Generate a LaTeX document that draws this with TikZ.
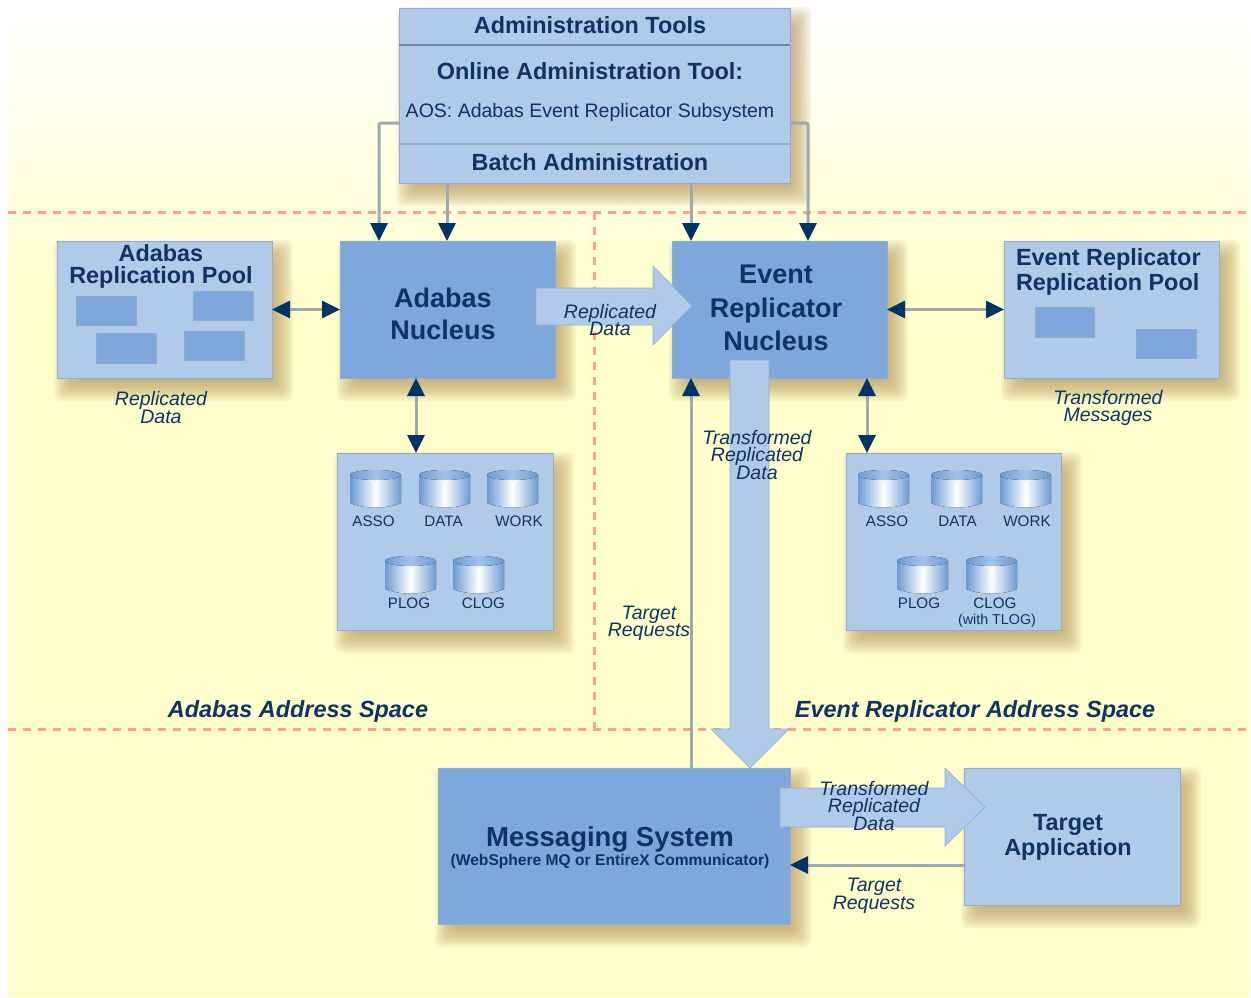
\documentclass[tikz,border=0pt]{standalone}
\usepackage{fontspec}
\setmainfont{Liberation Sans}
\usetikzlibrary{arrows.meta,calc}
\definecolor{lightb}{HTML}{B0CAE9}
\definecolor{midb}{HTML}{7EA8DC}
\definecolor{edgeb}{HTML}{96ABC6}
\definecolor{navy}{HTML}{0E3364}
\definecolor{tipnavy}{HTML}{003366}
\definecolor{conn}{HTML}{9CA9AE}
\definecolor{dashc}{HTML}{FFA090}
\definecolor{bgy}{HTML}{FFFFCC}
\definecolor{shad}{HTML}{B89A60}
\definecolor{cyledge}{HTML}{6A9BD3}
\tikzset{
  pane/.style={draw=edgeb,line width=.8pt,fill=lightb,inner sep=0pt,outer sep=0pt,text=navy,align=center},
  core/.style={draw=edgeb,line width=.8pt,fill=midb,inner sep=0pt,outer sep=0pt,text=navy,align=center},
  txt/.style={inner sep=0pt,outer sep=0pt,text=navy,align=center},
  head/.style={txt,font=\fontsize{23.4}{25}\selectfont\bfseries},
  big/.style={txt,font=\fontsize{27}{32}\selectfont\bfseries},
  lab/.style={txt,font=\fontsize{19.5}{17.5}\selectfont\itshape},
  dblab/.style={txt,font=\fontsize{15.2}{17}\selectfont},
  space/.style={txt,font=\fontsize{23.4}{25}\selectfont\bfseries\itshape},
  zone/.style={draw=dashc,line width=3pt,dash pattern=on 8pt off 7pt},
  wire/.style={draw=conn,line width=3pt,rounded corners=2pt},
  tip/.style={-{Triangle[length=18pt,width=17pt,color=tipnavy]}},
  tips/.style={{Triangle[length=18pt,width=17pt,color=tipnavy]}-{Triangle[length=18pt,width=17pt,color=tipnavy]}},
  fat/.style={draw=edgeb,line width=.6pt,fill=lightb},
  mini/.style={draw=edgeb!70!midb,line width=.6pt,fill=midb},
}
% soft shadow + box node
\newcommand{\softshadow}[4]{%
  \foreach \i in {0,...,11}{%
    \fill[shad,opacity=.10,rounded corners=7pt]
      ({#1+9-12+2*\i},{#2+11-12+2*\i}) rectangle ({#3+9+12-2*\i},{#4+11+12-2*\i});
  }}
\newcommand{\boxat}[7]{%
  \softshadow{#2}{#3}{#4}{#5}%
  \pgfmathsetlengthmacro{\bw}{(#4)-(#2)}%
  \pgfmathsetlengthmacro{\bh}{(#5)-(#3)}%
  \node[#6,minimum width=\bw,minimum height=\bh] (#1) at ({(#2+#4)/2},{(#3+#5)/2}) {#7};}
\newcommand{\cyl}[3]{%
  \fill[left color=cyledge,right color=cyledge,middle color=white,draw=none]
    (#2,#3+5) -- (#2,#3+33) .. controls (#2+14,#3+39) and (#2+37,#3+39) .. (#2+51,#3+33) -- (#2+51,#3+5) -- cycle;
  \fill[left color=cyledge,right color=cyledge,middle color=midb!70!white]
    (#2+25.5,#3+5) ellipse (25.5 and 5);
  \coordinate (#1) at (#2+25.5,#3+20);}
\begin{document}
\begin{tikzpicture}[x=1pt,y=-1pt]
\useasboundingbox (0,0) rectangle (1251,997);
\fill[white] (0,0) rectangle (1251,997);
\fill[top color=white,bottom color=bgy] (8,0) rectangle (1250,300);
\fill[bgy] (8,300) rectangle (1250,997);
% zones
\coordinate (zl1) at (8,212); \coordinate (zr1) at (1250,212);
\coordinate (zl2) at (8,729); \coordinate (zr2) at (1250,729);
\coordinate (zt) at (594,212); \coordinate (zb) at (594,729);
\draw[zone] (zl1) -- (zr1);
\draw[zone] (zl2) -- (zr2);
\draw[zone] (zt) -- (zb);
% boxes
\boxat{admin}{399}{8}{790}{183}{pane}{}
\boxat{pool}{57}{241}{272}{378}{pane}{}
\boxat{adanuc}{340}{241}{555}{378}{core}{}
\boxat{ernuc}{672}{241}{887}{378}{core}{}
\boxat{erpool}{1004}{241}{1219}{378}{pane}{}
\boxat{dbl}{337}{453}{553}{630}{pane}{}
\boxat{dbr}{846}{453}{1061}{630}{pane}{}
\boxat{msg}{438}{768}{790}{924}{core}{}
\boxat{target}{964}{768}{1180}{905}{pane}{}
% admin separators
\draw[edgeb!70!navy,line width=2.4pt] ([yshift=50.5pt]admin.west) -- ([yshift=50.5pt]admin.east);
\draw[edgeb,line width=1.2pt] ([yshift=-48.5pt]admin.west) -- ([yshift=-48.5pt]admin.east);
% admin connectors
\draw[wire,tip] ([yshift=-27.5pt]admin.west) -| ([xshift=-68.5pt]adanuc.north);
\draw[wire,tip] ([xshift=-147.5pt]admin.south) -- ([xshift=-0.5pt]adanuc.north);
\draw[wire,tip] ([xshift=96.5pt]admin.south) -- ([xshift=-88.5pt]ernuc.north);
\draw[wire,tip] ([yshift=-27.5pt]admin.east) -| ([xshift=28.5pt]ernuc.north);
% connectors between boxes
\draw[wire,tips] (pool.east) -- (adanuc.west);
\draw[wire,tips] (ernuc.east) -- (erpool.west);
\draw[wire,tips] ([xshift=-31.5pt]adanuc.south) -- ([xshift=-29pt]dbl.north);
\draw[wire,tips] ([xshift=87.5pt]ernuc.south) -- ([xshift=-86.5pt]dbr.north);
\draw[wire,tip] ([xshift=77pt]msg.north) -- ([xshift=-88.5pt]ernuc.south);
\draw[wire,tip] ([yshift=-28.5pt]target.west) -- ([yshift=-19pt]msg.east);
% pool contents
\filldraw[mini] (76,296) rectangle (136,325);
\filldraw[mini] (193,291) rectangle (253,320);
\filldraw[mini] (96,333) rectangle (156,363);
\filldraw[mini] (184,331) rectangle (244,360);
\filldraw[mini] (1035,307) rectangle (1094,337);
\filldraw[mini] (1136,329) rectangle (1196,358);
% cylinders
\cyl{c1}{350}{470}\cyl{c2}{419}{470}\cyl{c3}{487}{470}\cyl{c4}{385}{556}\cyl{c5}{453}{556}
\cyl{c6}{858}{470}\cyl{c7}{931}{470}\cyl{c8}{1000}{470}\cyl{c9}{897}{556}\cyl{c10}{966}{556}
% fat arrows
\filldraw[fat] (536,288) -- (653,288) -- (653,266) -- (692,306) -- (653,345) -- (653,325) -- (536,325) -- cycle;
\filldraw[fat] (730,360) -- (769,360) -- (769,729) -- (789,729) -- (750,768) -- (711,729) -- (730,729) -- cycle;
\filldraw[fat] (780,788) -- (945,788) -- (945,768) -- (985,807) -- (945,846) -- (945,827) -- (780,827) -- cycle;
% texts
\node[head] (t1) at (590,25.5) {Administration Tools};
\node[head] (t2) at (590,71) {Online Administration Tool:};
\node[txt,font=\fontsize{19.5}{21}\selectfont] (t3) at (590,112) {AOS: Adabas Event Replicator Subsystem};
\node[head] (t4) at (590,162) {Batch Administration};
\node[head,font=\fontsize{23.4}{22}\selectfont\bfseries] (t5) at (161,266) {Adabas\\Replication Pool};
\node[big] (t6) at (443,314) {Adabas\\Nucleus};
\node[big,font=\fontsize{27}{33.5}\selectfont\bfseries] (t7) at (776,308) {Event\\Replicator\\Nucleus};
\node[head,align=left,anchor=west,font=\fontsize{23.4}{25}\selectfont\bfseries] (t8) at (1016,272) {Event Replicator\\Replication Pool};
\node[head,font=\fontsize{23.4}{25}\selectfont\bfseries] (t9) at (1068,837.5) {Target\\Application};
\node[big,font=\fontsize{27.5}{32}\selectfont\bfseries] (t10) at (610,839) {Messaging System};
\node[txt,font=\fontsize{15.6}{16}\selectfont\bfseries] (t11) at (610,861) {(WebSphere MQ or EntireX Communicator)};
\node[lab] (l1) at (161,407.5) {Replicated\\Data};
\node[lab] (l2) at (610,320) {Replicated\\Data};
\node[lab] (l3) at (757,455) {Transformed\\Replicated\\Data};
\node[lab] (l4) at (1108,408) {Transformed\\Messages};
\node[lab] (l5) at (649,623.5) {Target\\Requests};
\node[lab] (l6) at (874,806) {Transformed\\Replicated\\Data};
\node[lab] (l7) at (874,896) {Target\\Requests};
\node[space] (s1) at (298,711) {Adabas Address Space};
\node[space] (s2) at (975,711) {Event Replicator Address Space};
% db labels
\node[dblab] (d1) at (373.5,521) {ASSO};
\node[dblab] (d2) at (443.5,521) {DATA};
\node[dblab] (d3) at (519,521) {WORK};
\node[dblab] (d4) at (409,603) {PLOG};
\node[dblab] (d5) at (483.5,603) {CLOG};
\node[dblab] (d6) at (887,521) {ASSO};
\node[dblab] (d7) at (957.5,521) {DATA};
\node[dblab] (d8) at (1027,521) {WORK};
\node[dblab] (d9) at (919,603) {PLOG};
\node[dblab] (d10) at (995,603) {CLOG};
\node[dblab,font=\fontsize{14.3}{15}\selectfont] (d11) at (997,621) {(with TLOG)};
\end{tikzpicture}
\end{document}
